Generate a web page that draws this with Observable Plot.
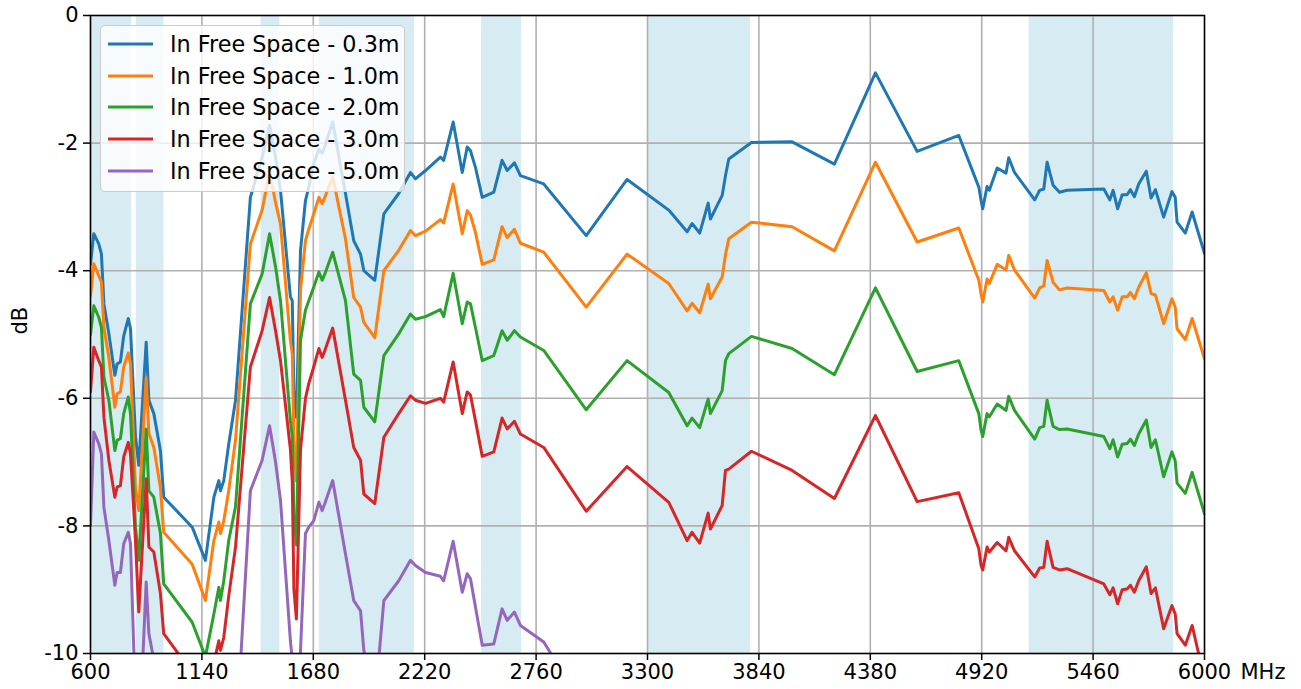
<!DOCTYPE html>
<html>
<head>
<meta charset="utf-8">
<script src="https://cdn.jsdelivr.net/npm/d3@7"></script>
<script src="https://cdn.jsdelivr.net/npm/@observablehq/plot@0.6"></script>
<style>
  html, body { margin: 0; padding: 0; background: #fff; }
  body { font-family: "DejaVu Sans", sans-serif; }
  #wrap { position: relative; width: 1301px; height: 689px; }
  #legend {
    position: absolute; left: 100px; top: 25px; width: 305px; height: 167px;
    box-sizing: border-box; border: 1px solid #cccccc; border-radius: 5px;
    background: rgba(255,255,255,0.8); padding-top: 2px;
  }
  .row { display: flex; align-items: center; height: 31.8px; font-size: 22.3px; color: #000; white-space: nowrap; }
  .row svg { margin-left: 7px; margin-right: 17px; }
</style>
</head>
<body>
<div id="wrap"><div id="legend"></div></div>
<script>
// ---- data ----
const freqMHz = [600,616,640,653,665,689,718,729,745,761,
783,794,818,834,870,883,907,939,955,1093,
1157,1198,1222,1230,1246,1270,1303,1375,1432,1468,
1497,1521,1569,1578,1586,1598,1618,1642,1658,1682,
1707,1723,1736,1774,1836,1876,1909,1925,1978,2022,
2094,2151,2175,2224,2296,2312,2358,2402,2426,2442,
2466,2499,2555,2595,2620,2655,2684,2797,3003,3201,
3403,3492,3516,3553,3594,3605,3662,3678,3694,3804,
4001,4206,4405,4607,4809,4906,4917,4925,4946,4957,
4995,5038,5051,5079,5177,5201,5221,5237,5266,5297,
5334,5512,5541,5557,5579,5601,5625,5641,5660,5681,
5718,5741,5762,5802,5842,5858,5867,5907,5940,6000];

const dB_0_3m = [-3.90,-3.42,-3.58,-3.74,-4.52,-4.99,-5.64,-5.46,-5.43,-5.02,
-4.75,-4.91,-6.60,-7.05,-5.12,-6.03,-6.24,-6.82,-7.55,-8.02,
-8.54,-7.55,-7.29,-7.45,-7.29,-6.72,-6.03,-2.85,-2.22,-1.72,
-2.22,-2.74,-4.41,-4.47,-5.88,-6.30,-3.68,-2.90,-2.69,-2.32,
-2.10,-2.16,-2.05,-1.67,-2.79,-3.53,-3.74,-4.00,-4.15,-3.11,
-2.79,-2.46,-2.56,-2.43,-2.22,-2.27,-1.67,-2.46,-2.06,-2.12,
-2.38,-2.85,-2.77,-2.27,-2.43,-2.31,-2.51,-2.64,-3.45,-2.57,
-3.05,-3.39,-3.26,-3.41,-2.94,-3.19,-2.82,-2.51,-2.25,-1.99,
-1.98,-2.33,-0.90,-2.13,-1.88,-2.69,-2.90,-3.03,-2.68,-2.74,
-2.39,-2.47,-2.23,-2.46,-2.89,-2.74,-2.72,-2.30,-2.66,-2.77,
-2.74,-2.72,-2.89,-2.74,-3.03,-2.81,-2.81,-2.73,-2.84,-2.64,
-2.44,-2.86,-2.73,-3.16,-2.76,-2.85,-3.24,-3.41,-3.08,-3.73];

const dB_1_0m = [-4.40,-3.89,-4.08,-4.18,-4.89,-5.36,-6.14,-5.93,-5.90,-5.51,
-5.29,-5.46,-7.40,-7.76,-5.67,-6.55,-6.77,-7.40,-8.10,-8.60,
-9.17,-8.23,-7.94,-8.12,-7.92,-7.45,-6.65,-3.58,-3.05,-2.45,
-2.93,-3.27,-5.10,-5.30,-6.70,-7.30,-4.30,-3.53,-3.35,-3.11,
-2.85,-2.95,-2.85,-2.53,-3.50,-4.42,-4.57,-4.81,-5.05,-4.00,
-3.68,-3.37,-3.45,-3.38,-3.20,-3.25,-2.64,-3.42,-3.06,-3.13,
-3.40,-3.90,-3.83,-3.31,-3.48,-3.35,-3.57,-3.71,-4.57,-3.74,
-4.20,-4.63,-4.51,-4.66,-4.21,-4.44,-4.10,-3.75,-3.50,-3.24,
-3.31,-3.69,-2.30,-3.55,-3.33,-4.15,-4.36,-4.49,-4.13,-4.20,
-3.90,-3.99,-3.76,-3.99,-4.43,-4.27,-4.24,-3.84,-4.18,-4.30,
-4.27,-4.31,-4.49,-4.41,-4.62,-4.41,-4.41,-4.34,-4.44,-4.26,
-4.03,-4.36,-4.38,-4.83,-4.44,-4.57,-4.91,-5.08,-4.75,-5.38];

const dB_2_0m = [-5.00,-4.55,-4.73,-4.89,-5.67,-6.03,-6.82,-6.66,-6.63,-6.24,
-5.98,-6.25,-8.02,-8.54,-6.48,-7.45,-7.55,-8.12,-8.91,-9.51,
-10.05,-9.38,-8.96,-9.17,-8.86,-8.23,-7.70,-4.52,-4.05,-3.42,
-3.94,-4.47,-6.35,-6.60,-7.80,-8.30,-5.09,-4.62,-4.47,-4.26,
-4.02,-4.15,-4.05,-3.71,-4.47,-5.62,-5.72,-6.14,-6.37,-5.33,
-4.99,-4.68,-4.76,-4.72,-4.61,-4.72,-4.04,-4.83,-4.49,-4.52,
-4.89,-5.41,-5.33,-4.94,-5.09,-4.94,-5.04,-5.25,-6.18,-5.41,
-5.91,-6.43,-6.31,-6.46,-6.01,-6.24,-5.88,-5.41,-5.30,-5.03,
-5.22,-5.63,-4.27,-5.58,-5.41,-6.24,-6.50,-6.60,-6.24,-6.29,
-6.09,-6.19,-5.97,-6.19,-6.64,-6.46,-6.44,-6.03,-6.44,-6.49,
-6.48,-6.60,-6.79,-6.65,-6.92,-6.72,-6.71,-6.64,-6.74,-6.56,
-6.34,-6.77,-6.65,-7.23,-6.84,-6.98,-7.33,-7.49,-7.16,-7.81];

const dB_3_0m = [-5.90,-5.20,-5.41,-5.51,-6.30,-6.97,-7.55,-7.39,-7.37,-6.92,
-6.69,-6.87,-8.23,-9.35,-7.26,-8.33,-8.41,-9.06,-9.69,-10.30,
-10.90,-10.15,-9.80,-9.95,-9.75,-9.10,-8.33,-5.51,-4.94,-4.42,
-4.94,-5.41,-6.80,-7.30,-9.00,-9.46,-6.80,-6.00,-5.77,-5.51,
-5.22,-5.36,-5.25,-4.90,-6.03,-6.77,-6.97,-7.50,-7.65,-6.61,
-6.24,-5.96,-6.03,-6.08,-6.00,-6.06,-5.43,-6.24,-5.90,-5.95,
-6.35,-6.91,-6.84,-6.31,-6.48,-6.36,-6.56,-6.77,-7.77,-7.07,
-7.63,-8.23,-8.10,-8.27,-7.80,-8.05,-7.68,-7.13,-7.11,-6.83,
-7.13,-7.57,-6.27,-7.62,-7.48,-8.36,-8.62,-8.69,-8.33,-8.41,
-8.26,-8.39,-8.18,-8.39,-8.80,-8.66,-8.65,-8.24,-8.65,-8.69,
-8.67,-8.91,-9.08,-8.97,-9.22,-9.00,-8.99,-8.93,-9.04,-8.86,
-8.64,-9.06,-8.97,-9.61,-9.25,-9.38,-9.69,-9.87,-9.56,-10.40];

const dB_5_0m = [-8.00,-6.53,-6.71,-6.87,-7.71,-8.23,-8.93,-8.73,-8.73,-8.28,
-8.10,-8.28,-10.80,-11.50,-8.88,-9.69,-10.10,-10.80,-11.20,-12.50,
-13.00,-12.50,-12.00,-12.00,-11.80,-11.50,-11.50,-7.45,-6.97,-6.43,
-7.00,-7.60,-9.80,-10.10,-11.00,-12.00,-9.95,-8.12,-8.02,-7.92,
-7.63,-7.76,-7.65,-7.29,-8.44,-9.17,-9.33,-9.95,-10.80,-9.17,
-8.86,-8.54,-8.62,-8.73,-8.79,-8.86,-8.24,-9.04,-8.75,-8.83,
-9.27,-9.87,-9.85,-9.30,-9.48,-9.35,-9.56,-9.82,-10.90];

const seriesNames = ["In Free Space - 0.3m","In Free Space - 1.0m","In Free Space - 2.0m","In Free Space - 3.0m","In Free Space - 5.0m"];
const seriesValues = [dB_0_3m, dB_1_0m, dB_2_0m, dB_3_0m, dB_5_0m];

// shaded frequency bands (MHz)
const bandStart = [600, 822, 1427, 1710, 2496, 3300, 5150];
const bandEnd   = [800, 956, 1518, 2170, 2690, 3800, 5850];

const xTicks = [600,1140,1680,2220,2760,3300,3840,4380,4920,5460,6000];
const yTicks = [0,-2,-4,-6,-8,-10];

// ---- styles ----
const colors = ["#1f77b4","#ff7f0e","#2ca02c","#d62728","#9467bd"];

const bands = bandStart.map((s, i) => ({x1: s, x2: bandEnd[i]}));
const rows = seriesValues.flatMap((vals, s) =>
  freqMHz.map((f, i) => ({f, v: vals[i], s})).filter(d => d.v !== undefined && d.v !== null));

const chart = Plot.plot({
  width: 1301,
  height: 689,
  marginLeft: 90,
  marginRight: 97,
  marginTop: 15,
  marginBottom: 36,
  style: {fontFamily: "DejaVu Sans, sans-serif", fontSize: "21px", background: "white", color: "black"},
  x: {domain: [600, 6000]},
  y: {domain: [-10, 0]},
  marks: [
    Plot.rect(bands, {x1: "x1", x2: "x2", fill: "#add8e6", fillOpacity: 0.5}),
    Plot.gridX(xTicks, {stroke: "#b0b0b0", strokeOpacity: 1, strokeWidth: 1.6}),
    Plot.gridY(yTicks, {stroke: "#b0b0b0", strokeOpacity: 1, strokeWidth: 1.6}),
    ...seriesNames.map((name, s) =>
      Plot.line(rows.filter(d => d.s === s), {x: "f", y: "v", stroke: colors[s], strokeWidth: 3, clip: true})),
    Plot.frame({stroke: "black", strokeWidth: 1.5}),
    Plot.axisX(xTicks, {tickSize: 7, tickPadding: 4, tickFormat: d => String(d), label: null, fontSize: 21, strokeWidth: 1.5}),
    Plot.axisY(yTicks, {tickSize: 7, tickPadding: 5, tickFormat: d => String(d), label: null, fontSize: 21, strokeWidth: 1.5}),
    Plot.text(["MHz"], {frameAnchor: "bottom-right", textAnchor: "start", lineAnchor: "top", dx: 36, dy: 11, fontSize: 21}),
    Plot.text(["dB"], {frameAnchor: "left", rotate: -90, dx: -70, fontSize: 21})
  ]
});
const wrap = document.getElementById("wrap");
wrap.insertBefore(chart, wrap.firstChild);

// legend
const legend = document.getElementById("legend");
seriesNames.forEach((name, s) => {
  const row = document.createElement("div");
  row.className = "row";
  row.innerHTML = `<svg width="45" height="10"><line x1="0" y1="5" x2="45" y2="5" stroke="${colors[s]}" stroke-width="3"/></svg><span>${name}</span>`;
  legend.appendChild(row);
});
</script>
</body>
</html>
